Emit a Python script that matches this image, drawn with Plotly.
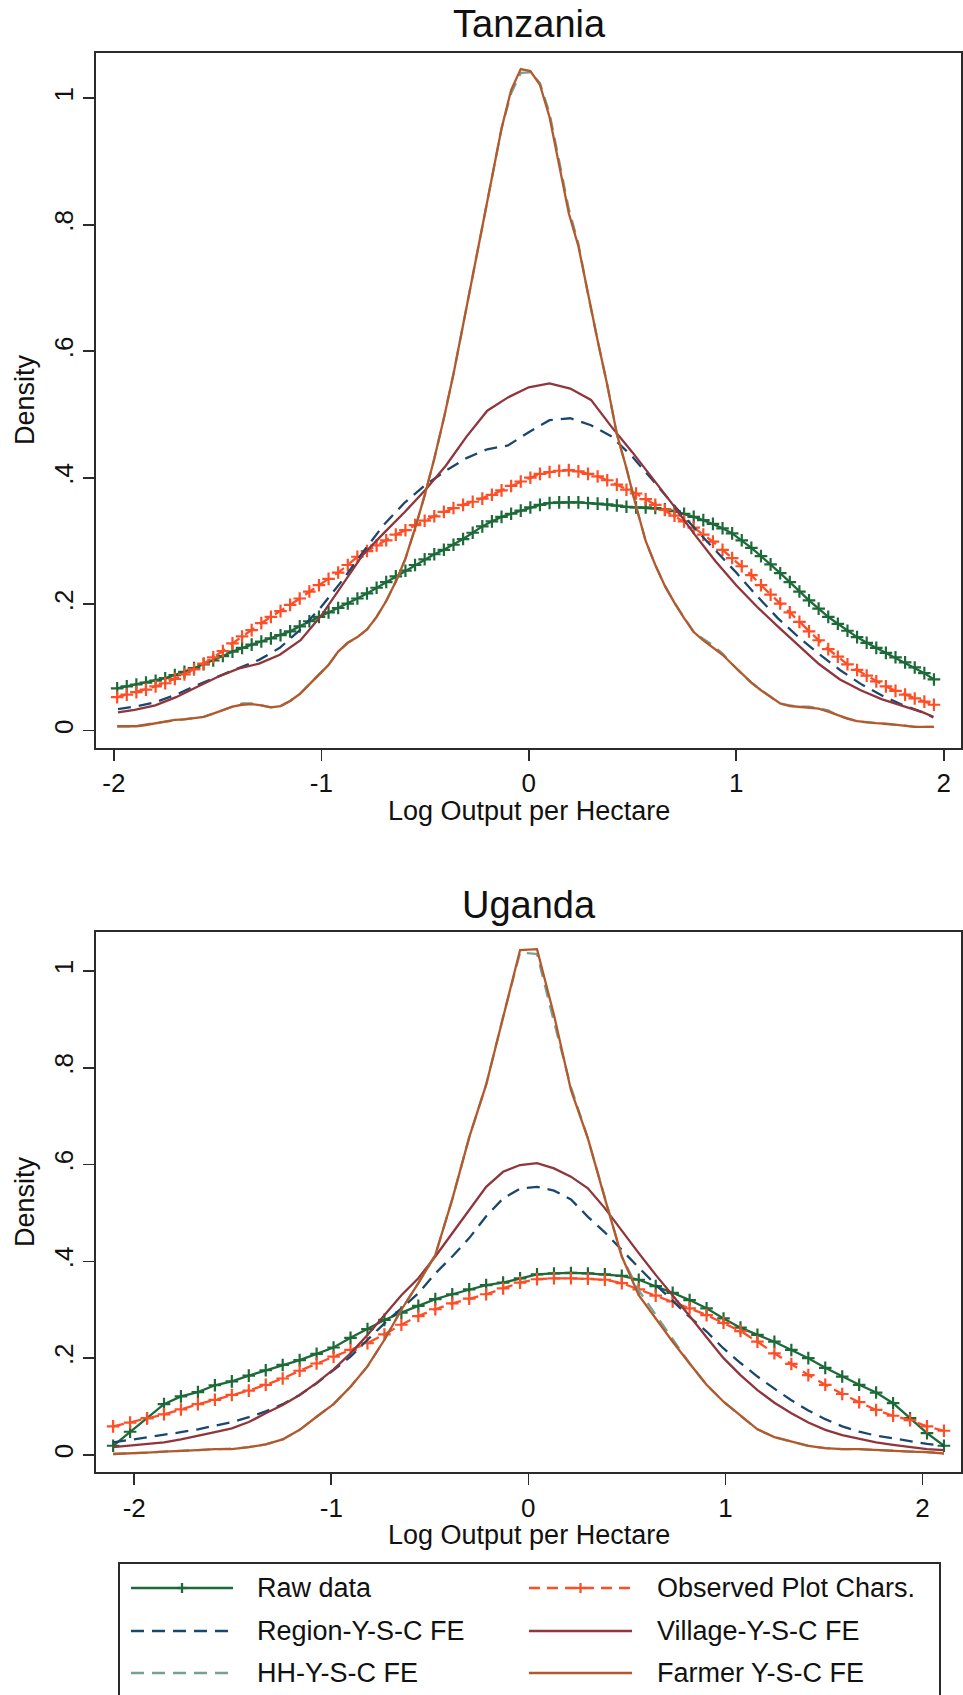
import numpy as np
import plotly.graph_objects as go

W, H = 963, 1695
FONT = "Liberation Sans, Arial, Helvetica, sans-serif"

names = ["Raw data", "Observed Plot Chars.", "Region-Y-S-C FE",
         "Village-Y-S-C FE", "HH-Y-S-C FE", "Farmer Y-S-C FE"]
colors = ["#1d6a39", "#ff4d26", "#1a476f", "#90353b", "#76a093", "#b4592b"]
dashes = ["solid", "11px,7px", "13px,8px", "solid", "13px,8px", "solid"]

x_ticks = [-2, -1, 0, 1, 2]
x_tick_text = ["-2", "-1", "0", "1", "2"]
y_ticks = [0, 0.2, 0.4, 0.6, 0.8, 1.0]
y_tick_text = ["0", ".2", ".4", ".6", ".8", "1"]

# ---------------- Tanzania ----------------
x_tz = np.linspace(-1.984, 1.953, 86)
x_tz_c = [-1.98, -1.9, -1.8, -1.7, -1.6, -1.5, -1.4, -1.3, -1.2, -1.1, -1.0,
          -0.9, -0.8, -0.7, -0.6, -0.5, -0.4, -0.3, -0.2, -0.1, 0.0, 0.1,
          0.2, 0.3, 0.4, 0.5, 0.6, 0.7, 0.8, 0.9, 1.0, 1.1, 1.2, 1.3, 1.4,
          1.5, 1.6, 1.7, 1.8, 1.9, 1.95]

tz_raw = [0.067, 0.070, 0.073, 0.076, 0.079, 0.083, 0.088, 0.093, 0.099, 0.105,
          0.111, 0.118, 0.125, 0.131, 0.136, 0.141, 0.146, 0.151, 0.157, 0.165,
          0.173, 0.180, 0.187, 0.194, 0.201, 0.209, 0.217, 0.226, 0.235, 0.244,
          0.253, 0.262, 0.271, 0.279, 0.286, 0.294, 0.303, 0.313, 0.323, 0.331,
          0.338, 0.343, 0.348, 0.353, 0.357, 0.360, 0.361, 0.361, 0.361, 0.360,
          0.359, 0.358, 0.356, 0.354, 0.353, 0.353, 0.352, 0.350, 0.347, 0.343,
          0.338, 0.333, 0.327, 0.320, 0.312, 0.301, 0.289, 0.276, 0.263, 0.249,
          0.235, 0.220, 0.206, 0.193, 0.180, 0.169, 0.158, 0.148, 0.139, 0.131,
          0.123, 0.116, 0.108, 0.100, 0.091, 0.081]

tz_obs = [0.053, 0.057, 0.061, 0.065, 0.070, 0.075, 0.082, 0.089, 0.097, 0.106,
          0.116, 0.126, 0.138, 0.149, 0.159, 0.170, 0.180, 0.189, 0.199, 0.209,
          0.220, 0.230, 0.240, 0.250, 0.262, 0.275, 0.284, 0.293, 0.301, 0.310,
          0.317, 0.325, 0.332, 0.339, 0.346, 0.352, 0.357, 0.362, 0.367, 0.373,
          0.380, 0.387, 0.394, 0.400, 0.406, 0.409, 0.411, 0.412, 0.410, 0.406,
          0.402, 0.396, 0.389, 0.381, 0.375, 0.366, 0.357, 0.349, 0.340, 0.331,
          0.321, 0.310, 0.299, 0.286, 0.273, 0.260, 0.246, 0.230, 0.215, 0.201,
          0.187, 0.172, 0.157, 0.143, 0.129, 0.117, 0.105, 0.096, 0.087, 0.078,
          0.070, 0.063, 0.057, 0.051, 0.046, 0.041]

tz_region = [0.034, 0.038, 0.045, 0.057, 0.072, 0.085, 0.099, 0.112, 0.131, 0.160,
             0.196, 0.237, 0.282, 0.325, 0.360, 0.388, 0.411, 0.431, 0.445, 0.451,
             0.472, 0.491, 0.494, 0.483, 0.465, 0.433, 0.395, 0.356, 0.320, 0.285,
             0.250, 0.213, 0.178, 0.148, 0.121, 0.096, 0.074, 0.056, 0.041, 0.029,
             0.021]

tz_village = [0.029, 0.033, 0.040, 0.053, 0.069, 0.085, 0.098, 0.106, 0.120, 0.143,
              0.182, 0.230, 0.278, 0.312, 0.345, 0.380, 0.419, 0.465, 0.506, 0.527,
              0.543, 0.549, 0.541, 0.523, 0.480, 0.440, 0.398, 0.355, 0.310, 0.268,
              0.230, 0.196, 0.165, 0.135, 0.105, 0.081, 0.064, 0.050, 0.039, 0.029,
              0.022]

tz_hh = [0.007, 0.007, 0.007, 0.010, 0.012, 0.014, 0.016, 0.018, 0.020, 0.022,
         0.027, 0.033, 0.038, 0.043, 0.043, 0.040, 0.037, 0.039, 0.047, 0.058,
         0.073, 0.089, 0.104, 0.125, 0.139, 0.148, 0.160, 0.180, 0.205, 0.236,
         0.272, 0.320, 0.372, 0.430, 0.494, 0.564, 0.642, 0.718, 0.800, 0.876,
         0.952, 1.008, 1.040, 1.041, 1.024, 0.976, 0.900, 0.825, 0.770, 0.690,
         0.617, 0.547, 0.469, 0.415, 0.355, 0.300, 0.262, 0.229, 0.202, 0.178,
         0.156, 0.145, 0.135, 0.122, 0.105, 0.090, 0.076, 0.064, 0.053, 0.043,
         0.040, 0.038, 0.038, 0.035, 0.032, 0.024, 0.019, 0.015, 0.013, 0.012,
         0.011, 0.009, 0.008, 0.006, 0.006, 0.006]

tz_farmer = [0.007, 0.007, 0.007, 0.009, 0.012, 0.015, 0.017, 0.018, 0.020, 0.022,
             0.027, 0.033, 0.038, 0.041, 0.042, 0.040, 0.037, 0.039, 0.047, 0.058,
             0.073, 0.089, 0.104, 0.125, 0.139, 0.148, 0.160, 0.180, 0.205, 0.236,
             0.272, 0.320, 0.372, 0.430, 0.494, 0.564, 0.642, 0.718, 0.800, 0.876,
             0.952, 1.013, 1.046, 1.043, 1.021, 0.970, 0.892, 0.818, 0.766, 0.690,
             0.617, 0.547, 0.469, 0.415, 0.355, 0.300, 0.262, 0.229, 0.202, 0.178,
             0.156, 0.143, 0.132, 0.120, 0.105, 0.090, 0.076, 0.064, 0.053, 0.043,
             0.039, 0.038, 0.037, 0.035, 0.030, 0.024, 0.019, 0.015, 0.013, 0.012,
             0.011, 0.009, 0.008, 0.006, 0.006, 0.006]

# ---------------- Uganda ----------------
x_ug = np.linspace(-2.107, 2.109, 50)

ug_raw = [0.019, 0.048, 0.076, 0.105, 0.121, 0.130, 0.144, 0.152, 0.164, 0.175,
          0.186, 0.196, 0.209, 0.222, 0.242, 0.260, 0.279, 0.294, 0.308, 0.322,
          0.332, 0.342, 0.351, 0.356, 0.365, 0.373, 0.375, 0.376, 0.375, 0.373,
          0.370, 0.362, 0.349, 0.335, 0.320, 0.303, 0.282, 0.263, 0.248, 0.234,
          0.217, 0.200, 0.180, 0.162, 0.145, 0.129, 0.107, 0.076, 0.045, 0.019]

ug_obs = [0.059, 0.067, 0.076, 0.084, 0.094, 0.105, 0.114, 0.124, 0.133, 0.145,
          0.158, 0.174, 0.189, 0.203, 0.217, 0.231, 0.249, 0.269, 0.287, 0.301,
          0.313, 0.323, 0.332, 0.344, 0.356, 0.363, 0.365, 0.365, 0.364, 0.362,
          0.355, 0.342, 0.329, 0.317, 0.303, 0.289, 0.273, 0.256, 0.234, 0.210,
          0.188, 0.165, 0.145, 0.126, 0.109, 0.093, 0.081, 0.072, 0.059, 0.050]

ug_region = [0.026, 0.031, 0.036, 0.041, 0.047, 0.053, 0.060, 0.068, 0.078, 0.090,
             0.105, 0.124, 0.148, 0.176, 0.203, 0.238, 0.272, 0.303, 0.334, 0.375,
             0.410, 0.448, 0.493, 0.530, 0.550, 0.554, 0.546, 0.528, 0.492, 0.460,
             0.423, 0.387, 0.352, 0.318, 0.285, 0.255, 0.220, 0.190, 0.162, 0.137,
             0.113, 0.092, 0.074, 0.059, 0.048, 0.040, 0.034, 0.028, 0.023, 0.019]

ug_village = [0.016, 0.019, 0.022, 0.026, 0.032, 0.039, 0.047, 0.055, 0.068, 0.086,
              0.103, 0.124, 0.149, 0.177, 0.210, 0.248, 0.289, 0.330, 0.365, 0.410,
              0.458, 0.506, 0.554, 0.585, 0.599, 0.603, 0.592, 0.575, 0.551, 0.510,
              0.463, 0.417, 0.372, 0.330, 0.287, 0.243, 0.200, 0.165, 0.134, 0.108,
              0.086, 0.067, 0.052, 0.041, 0.033, 0.026, 0.021, 0.016, 0.012, 0.010]

ug_hh = [0.002, 0.003, 0.005, 0.007, 0.008, 0.010, 0.012, 0.013, 0.016, 0.022,
         0.032, 0.052, 0.079, 0.105, 0.141, 0.183, 0.238, 0.300, 0.355, 0.413,
         0.528, 0.656, 0.765, 0.905, 1.038, 1.035, 0.895, 0.760, 0.654, 0.530,
         0.410, 0.340, 0.290, 0.240, 0.189, 0.145, 0.110, 0.081, 0.053, 0.037,
         0.028, 0.019, 0.014, 0.012, 0.012, 0.010, 0.009, 0.007, 0.006, 0.003]

ug_farmer = [0.002, 0.003, 0.005, 0.007, 0.008, 0.010, 0.012, 0.012, 0.016, 0.022,
             0.032, 0.052, 0.079, 0.105, 0.141, 0.183, 0.238, 0.300, 0.355, 0.413,
             0.528, 0.656, 0.765, 0.905, 1.043, 1.045, 0.909, 0.754, 0.654, 0.530,
             0.410, 0.330, 0.282, 0.234, 0.189, 0.145, 0.110, 0.081, 0.053, 0.037,
             0.028, 0.019, 0.014, 0.012, 0.012, 0.010, 0.009, 0.007, 0.006, 0.003]


def fx(px):
    return px / W


def fy(px):
    return 1 - px / H


fig = go.Figure()

panels = [
    ("x", "y", [(x_tz, tz_raw), (x_tz, tz_obs), (x_tz_c, tz_region),
                (x_tz_c, tz_village), (x_tz, tz_hh), (x_tz, tz_farmer)]),
    ("x2", "y2", [(x_ug, ug_raw), (x_ug, ug_obs), (x_ug, ug_region),
                  (x_ug, ug_village), (x_ug, ug_hh), (x_ug, ug_farmer)]),
]

for xa, ya, series in panels:
    for k, (xs, ys) in enumerate(series):
        with_markers = k in (0, 1)
        fig.add_trace(go.Scatter(
            x=list(xs), y=ys, xaxis=xa, yaxis=ya, name=names[k],
            mode="lines+markers" if with_markers else "lines",
            line=dict(color=colors[k], width=2.3, dash=dashes[k]),
            marker=dict(symbol="cross-thin", size=9,
                        line=dict(color=colors[k], width=2.2)),
            showlegend=False, hoverinfo="skip"))

axis_common = dict(showline=True, linecolor="#2b2b2b", linewidth=2, mirror=True,
                   showgrid=False, zeroline=False, ticks="outside", ticklen=11,
                   tickwidth=1.6, tickcolor="#2b2b2b",
                   tickfont=dict(family=FONT, size=26, color="#111111"))

x_dom = [fx(96), fx(960.5)]
fig.update_layout(
    width=W, height=H, margin=dict(l=0, r=0, t=0, b=0),
    paper_bgcolor="white", plot_bgcolor="white",
    font=dict(family=FONT, color="#111111"),
    xaxis=dict(domain=x_dom, anchor="y", range=[-2.086, 2.081],
               tickvals=x_ticks, ticktext=x_tick_text, **axis_common),
    yaxis=dict(domain=[fy(747.7), fy(52.7)], anchor="x", range=[-0.0269, 1.072],
               tickvals=y_ticks, ticktext=y_tick_text, tickangle=-90, **axis_common),
    xaxis2=dict(domain=x_dom, anchor="y2", range=[-2.194, 2.193],
                tickvals=x_ticks, ticktext=x_tick_text, **axis_common),
    yaxis2=dict(domain=[fy(1472.3), fy(931.7)], anchor="x2", range=[-0.0358, 1.081],
                tickvals=y_ticks, ticktext=y_tick_text, tickangle=-90, **axis_common),
)

ann = []
# Panel titles
ann.append(dict(text="Tanzania", x=fx(529), y=fy(24.5), xref="paper", yref="paper",
                showarrow=False, xanchor="center", yanchor="middle",
                font=dict(family=FONT, size=38, color="#111111")))
ann.append(dict(text="Uganda", x=fx(529), y=fy(905), xref="paper", yref="paper",
                showarrow=False, xanchor="center", yanchor="middle",
                font=dict(family=FONT, size=38, color="#111111")))
# Axis titles
for yc in (400, 1202):
    ann.append(dict(text="Density", x=fx(25), y=fy(yc), xref="paper", yref="paper",
                    showarrow=False, textangle=-90, xanchor="center", yanchor="middle",
                    font=dict(family=FONT, size=27, color="#111111")))
for yc in (811, 1535):
    ann.append(dict(text="Log Output per Hectare", x=fx(529), y=fy(yc), xref="paper",
                    yref="paper", showarrow=False, xanchor="center", yanchor="middle",
                    font=dict(family=FONT, size=27, color="#111111")))

# Legend (drawn manually, Stata style, two columns)
shapes = [dict(type="rect", xref="paper", yref="paper", x0=fx(119), x1=fx(940),
               y0=fy(1563), y1=fy(1730), line=dict(color="#2b2b2b", width=2),
               fillcolor="rgba(0,0,0,0)")]
cols = [(131, 233, 255), (529, 632, 655)]
rows = [1588, 1631, 1673]
for k, nm in enumerate(names):
    c0, c1, tx = cols[k % 2]
    yc = rows[k // 2]
    shapes.append(dict(type="line", xref="paper", yref="paper", x0=fx(c0), x1=fx(c1),
                       y0=fy(yc), y1=fy(yc),
                       line=dict(color=colors[k], width=2.5, dash=dashes[k])))
    if k in (0, 1):
        xc = (c0 + c1) / 2
        shapes.append(dict(type="line", xref="paper", yref="paper", x0=fx(xc - 5),
                           x1=fx(xc + 5), y0=fy(yc), y1=fy(yc),
                           line=dict(color=colors[k], width=2.3)))
        shapes.append(dict(type="line", xref="paper", yref="paper", x0=fx(xc),
                           x1=fx(xc), y0=fy(yc - 5), y1=fy(yc + 5),
                           line=dict(color=colors[k], width=2.3)))
    ann.append(dict(text=nm, x=fx(tx), y=fy(yc), xref="paper", yref="paper",
                    showarrow=False, xanchor="left", yanchor="middle",
                    font=dict(family=FONT, size=27, color="#111111")))

fig.update_layout(annotations=ann, shapes=shapes)
fig.write_html("out.html",
               config={"displayModeBar": False, "staticPlot": True},
               post_script="document.body.style.margin='0';"
                           "document.body.style.padding='0';"
                           "document.body.style.overflow='hidden';")
